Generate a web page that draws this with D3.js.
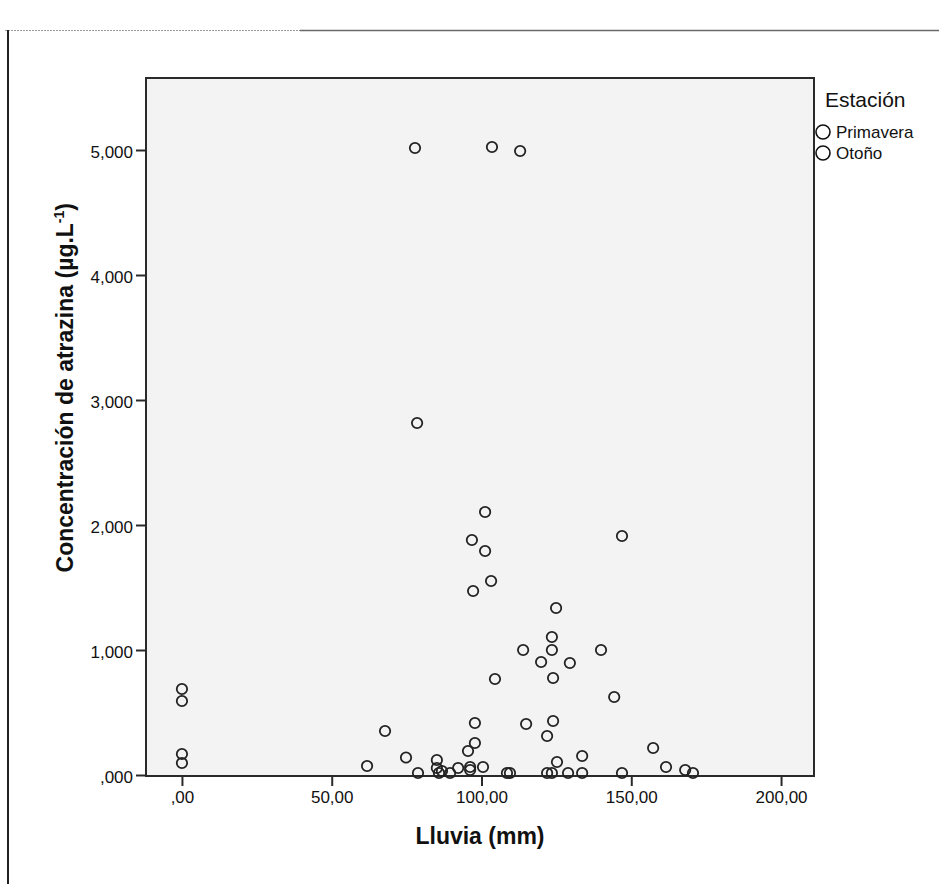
<!DOCTYPE html>
<html>
<head>
<meta charset="utf-8">
<script src="https://cdn.jsdelivr.net/npm/d3@7"></script>
<style>
  html, body { margin: 0; padding: 0; background: #fff; }
  svg { display: block; }
  text { font-family: "Liberation Sans", Arial, sans-serif; fill: #111; }
</style>
</head>
<body>
<svg id="chart" width="939" height="884"></svg>
<script>
// Rainfall (mm) and atrazine concentration (µg/L) per sample
const lluvia = [
  77.8, 103.5, 112.9, 78.5, 101.2, 96.8, 101.2, 103.2, 97.2, 146.9,
  124.9, 123.5, 123.5, 113.9, 119.9, 129.5, 139.9, 104.5, 123.9, 144.3,
  0, 0, 0, 0,
  61.8, 67.8, 74.8, 78.8, 85.1, 85.1, 85.8, 86.8, 89.5, 92.2,
  96.2, 96.2, 95.5, 97.8, 97.8, 100.5, 108.5, 109.5, 114.9, 121.9,
  123.9, 121.9, 123.5, 125.2, 128.9, 133.6, 133.6, 146.9, 157.3, 161.6,
  168.0, 170.6
];
const atrazina = [
  5.016, 5.024, 4.992, 2.816, 2.104, 1.880, 1.792, 1.552, 1.472, 1.912,
  1.336, 1.104, 1.000, 1.000, 0.904, 0.896, 1.000, 0.768, 0.776, 0.624,
  0.688, 0.592, 0.168, 0.096,
  0.072, 0.352, 0.140, 0.016, 0.120, 0.056, 0.016, 0.032, 0.016, 0.056,
  0.064, 0.040, 0.192, 0.256, 0.416, 0.064, 0.016, 0.016, 0.408, 0.312,
  0.432, 0.016, 0.016, 0.104, 0.016, 0.016, 0.152, 0.016, 0.216, 0.064,
  0.040, 0.016
];
const estacion = [
  "Primavera", "Primavera", "Primavera", "Primavera", "Primavera", "Primavera", "Primavera", "Primavera", "Primavera", "Primavera",
  "Otoño", "Otoño", "Otoño", "Otoño", "Otoño", "Otoño", "Otoño", "Otoño", "Otoño", "Otoño",
  "Primavera", "Primavera", "Otoño", "Otoño",
  "Primavera", "Primavera", "Primavera", "Primavera", "Primavera", "Primavera", "Primavera", "Primavera", "Primavera", "Primavera",
  "Primavera", "Primavera", "Primavera", "Primavera", "Primavera", "Primavera", "Otoño", "Otoño", "Otoño", "Otoño",
  "Otoño", "Otoño", "Otoño", "Otoño", "Otoño", "Otoño", "Otoño", "Otoño", "Otoño", "Otoño",
  "Otoño", "Otoño"
];
const estaciones = ["Primavera", "Otoño"];
const xTicks = [0, 50, 100, 150, 200];
const yTicks = [0, 1, 2, 3, 4, 5];

const svg = d3.select("#chart");
const plot = { left: 146, right: 814, top: 78, bottom: 776 };

const x = d3.scaleLinear().domain([-12, 211]).range([plot.left, plot.right]);
const y = d3.scaleLinear().domain([-0.008, 5.576]).range([plot.bottom, plot.top]);

// Spanish decimal comma, leading zero dropped
const fmtX = v => d3.format(".2f")(v).replace(".", ",").replace(/^0,/, ",");
const fmtY = v => d3.format(".3f")(v).replace(".", ",").replace(/^0,/, ",");

// Page frame
svg.append("rect").attr("width", 939).attr("height", 884).attr("fill", "#fff");
svg.append("line").attr("x1", 5).attr("x2", 300).attr("y1", 30.5).attr("y2", 30.5)
  .attr("stroke", "#9a9a9a").attr("stroke-width", 1.2).attr("stroke-dasharray", "2,1");
svg.append("line").attr("x1", 300).attr("x2", 939).attr("y1", 30.5).attr("y2", 30.5)
  .attr("stroke", "#6a6a6a").attr("stroke-width", 1.6);
svg.append("line").attr("x1", 8).attr("x2", 8).attr("y1", 30).attr("y2", 884)
  .attr("stroke", "#222").attr("stroke-width", 2);

// Plot area
svg.append("rect")
  .attr("x", plot.left).attr("y", plot.top)
  .attr("width", plot.right - plot.left).attr("height", plot.bottom - plot.top)
  .attr("fill", "#f3f3f3").attr("stroke", "#2a2a2a").attr("stroke-width", 2);

// Axes
const xAxis = svg.append("g").attr("transform", `translate(0,${plot.bottom})`)
  .call(d3.axisBottom(x).tickValues(xTicks).tickFormat(fmtX).tickSize(10).tickPadding(5));
const yAxis = svg.append("g").attr("transform", `translate(${plot.left},0)`)
  .call(d3.axisLeft(y).tickValues(yTicks).tickFormat(fmtY).tickSize(10).tickPadding(3));
[xAxis, yAxis].forEach(a => {
  a.select(".domain").remove();
  a.selectAll(".tick line").attr("stroke", "#2a2a2a").attr("stroke-width", 2);
  a.selectAll(".tick text").attr("fill", "#111")
    .style("font-family", '"Liberation Sans", Arial, sans-serif').style("font-size", "17px");
});
yAxis.selectAll(".tick text").attr("dy", "0.42em");

// Points
svg.append("g").selectAll("circle")
  .data(lluvia.map((v, i) => ({ x: v, y: atrazina[i], s: estacion[i] })))
  .join("circle")
  .attr("cx", d => x(d.x)).attr("cy", d => y(d.y)).attr("r", 5.2)
  .attr("fill", "none").attr("stroke", "#222").attr("stroke-width", 1.8);

// Axis titles
svg.append("text")
  .attr("x", (plot.left + plot.right) / 2).attr("y", 844)
  .attr("text-anchor", "middle").style("font-size", "23px").style("font-weight", "bold")
  .text("Lluvia (mm)");

const yt = svg.append("text")
  .attr("transform", "translate(73,203) rotate(-90)")
  .attr("text-anchor", "end").style("font-size", "23px").style("font-weight", "bold");
yt.append("tspan").text("Concentración de atrazina (µg.L");
yt.append("tspan").attr("dy", -9).style("font-size", "14px").text("-1");
yt.append("tspan").attr("dy", 9).text(")");

// Legend
const leg = svg.append("g");
leg.append("text").attr("x", 825).attr("y", 107).style("font-size", "21px").text("Estación");
estaciones.forEach((s, i) => {
  const cy = 132 + i * 21;
  leg.append("circle").attr("cx", 823).attr("cy", cy).attr("r", 7)
    .attr("fill", "none").attr("stroke", "#111").attr("stroke-width", 1.6);
  leg.append("text").attr("x", 836).attr("y", cy + 6).style("font-size", "17px").text(s);
});
</script>
</body>
</html>
